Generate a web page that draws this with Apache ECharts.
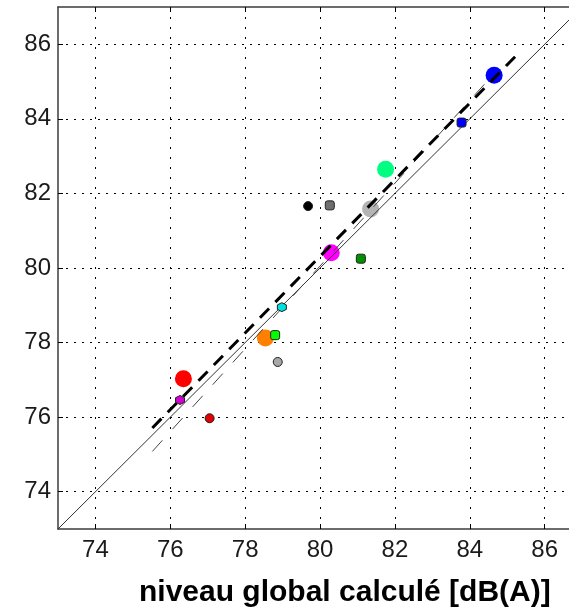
<!DOCTYPE html>
<html>
<head>
<meta charset="utf-8">
<script src="https://cdn.jsdelivr.net/npm/echarts@6/dist/echarts.min.js"></script>
<style>
html,body{margin:0;padding:0;background:#fff;}
#chart{width:569px;height:613px;}
</style>
</head>
<body>
<div id="chart"></div>
<script>
// ---- data ----
const tickValues = [74, 76, 78, 80, 82, 84, 86];
const xLabel = 'niveau global calculé [dB(A)]';

// large points
const largeX = [84.65, 81.75, 81.35, 80.30, 78.54, 76.35];
const largeY = [85.17, 82.65, 81.58, 80.41, 78.12, 77.03];
// small points
const smallX = [83.78, 79.68, 80.26, 81.09, 78.80, 78.98, 78.87, 76.26, 77.05];
const smallY = [83.90, 81.66, 81.68, 80.25, 78.20, 78.95, 77.48, 76.46, 75.97];

// reference line y = x
const identX = [73, 87];
const identY = [73, 87];
// thick dashed regression
const thickX = [75.52, 85.36];
const thickY = [75.71, 85.82];
// thin dashed regression
const thinX = [75.52, 84.50];
const thinY = [75.08, 85.05];

// ---- styles ----
const largeColors = ['#0000ff', '#00ff80', '#b4b4b4', '#ff00ff', '#ff8000', '#ff0000'];
const smallColors = ['#0000ff', '#000000', '#6e6e6e', '#009000', '#00ff00', '#00e0e0', '#a8a8a8', '#d000d0', '#e00000'];
const hex = 'path://M0,-10 L8.66,-5 L8.66,5 L0,10 L-8.66,5 L-8.66,-5 Z';
const smallSymbols = ['roundRect', 'circle', 'roundRect', 'roundRect', 'roundRect', hex, 'circle', hex, 'circle'];

const zip = (a, b) => a.map((v, i) => [v, b[i]]);
const font = 'Liberation Sans, Arial, sans-serif';

const chart = echarts.init(document.getElementById('chart'), null, {renderer: 'canvas'});
const axisLineStyle = {color: '#3c3c3c', width: 1.5};
const gridDot = {color: '#000', width: 1, type: [2, 8]};

chart.setOption({
  animation: false,
  backgroundColor: '#fff',
  grid: {left: 58, top: 7, right: 0, height: 522},
  xAxis: [{
    type: 'value', min: 73, max: 86.65, position: 'bottom',
    axisLine: {show: true, onZero: false, lineStyle: axisLineStyle},
    axisTick: {show: true, inside: true, length: 5, customValues: tickValues, lineStyle: {color: '#000', width: 1}},
    axisLabel: {show: true, customValues: tickValues, margin: 9, fontSize: 24, color: '#1a1a1a', fontFamily: font},
    splitLine: {show: true, lineStyle: gridDot}
  }, {
    type: 'value', min: 73, max: 86.65, position: 'top',
    axisLine: {show: true, onZero: false, lineStyle: axisLineStyle},
    axisTick: {show: true, inside: true, length: 5, customValues: tickValues, lineStyle: {color: '#000', width: 1}},
    axisLabel: {show: false},
    splitLine: {show: false}
  }],
  yAxis: [{
    type: 'value', min: 73, max: 87, interval: 2, position: 'left',
    axisLine: {show: true, onZero: false, lineStyle: axisLineStyle},
    axisTick: {show: true, inside: true, length: 5, customValues: tickValues, lineStyle: {color: '#000', width: 1}},
    axisLabel: {show: true, customValues: tickValues, margin: 7, fontSize: 24, color: '#1a1a1a', fontFamily: font},
    splitLine: {show: true, lineStyle: {color: '#000', width: 1, type: [2, 6]}}
  }],
  graphic: [{
    type: 'text', left: 139, top: 578,
    style: {text: xLabel, fontSize: 30, fontWeight: 'bold', fontFamily: font, fill: '#000'}
  }],
  series: [
    {
      type: 'scatter', z: 1, symbol: 'circle', symbolSize: 17,
      data: zip(largeX, largeY),
      itemStyle: {color: p => largeColors[p.dataIndex], opacity: 1}
    },
    {
      type: 'line', z: 2, showSymbol: false, symbol: 'none',
      data: zip(identX, identY),
      lineStyle: {color: '#333', width: 1}
    },
    {
      type: 'line', z: 3, showSymbol: false, symbol: 'none',
      data: zip(thinX, thinY),
      lineStyle: {color: '#444', width: 1, type: [15, 15]}
    },
    {
      type: 'line', z: 4, showSymbol: false, symbol: 'none',
      data: zip(thickX, thickY),
      lineStyle: {color: '#000', width: 3, type: [13, 9]}
    },
    {
      type: 'scatter', z: 5,
      symbol: (v, p) => smallSymbols[p.dataIndex],
      symbolSize: 9,
      data: zip(smallX, smallY),
      itemStyle: {color: p => smallColors[p.dataIndex], borderColor: '#222', borderWidth: 1, opacity: 1}
    }
  ]
});
</script>
</body>
</html>
